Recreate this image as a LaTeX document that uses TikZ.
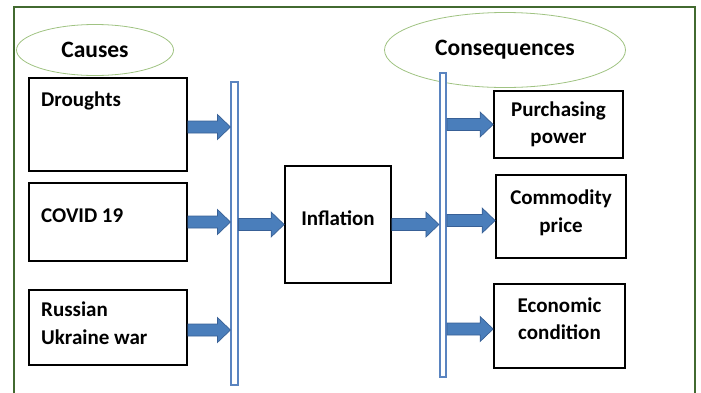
\documentclass[tikz,border=0pt]{standalone}
\usepackage{fontspec}
\setmainfont{Carlito}
\usetikzlibrary{calc,shapes.geometric}
\definecolor{framegreen}{RGB}{66,106,48}
\definecolor{ovalgreen}{RGB}{160,195,130}
\definecolor{arrowfill}{RGB}{74,126,187}
\definecolor{arrowedge}{RGB}{56,96,150}
\definecolor{barblue}{RGB}{90,132,192}

\tikzset{
  boxtxt/.style={font=\fontsize{21}{27.5}\selectfont\bfseries},
  headtxt/.style={font=\fontsize{23.5}{27}\selectfont\bfseries},
  oval/.style={ellipse, draw=ovalgreen, line width=0.8pt, headtxt, inner sep=0pt},
  cbox/.style={draw, line width=1.7pt, boxtxt, align=center, inner sep=0pt},
  lbox/.style={draw, line width=1.7pt, inner sep=0pt},
  intext/.style={boxtxt, align=left, inner sep=0pt, anchor=north west},
  bar/.style={draw=barblue, line width=1.6pt, fill=white, minimum width=6.5pt, inner sep=0pt},
  blockarr/.style={draw=arrowedge, fill=arrowfill, line width=0.7pt,
    to path={let \p1=(\tikztostart), \p2=(\tikztotarget) in
      (\x1,\y1+6pt) -- (\x2-13pt,\y1+6pt) -- (\x2-13pt,\y1+12.5pt) -- (\x2,\y1)
      -- (\x2-13pt,\y1-12.5pt) -- (\x2-13pt,\y1-6pt) -- (\x1,\y1-6pt) -- cycle}},
}

\begin{document}
\begin{tikzpicture}[x=1pt,y=-1pt]
  \useasboundingbox (0,0) rectangle (701,392);
  \draw[framegreen, line width=2pt] (14,7) rectangle (695,400);

  % headings
  \node[oval, minimum width=157pt, minimum height=51pt] (causes) at (95,50) {Causes};
  \node[oval, minimum width=241pt, minimum height=75pt] (conseq) at (505,50) {Consequences};

  % causes
  \node[lbox, minimum width=158pt, minimum height=93pt] (drought) at (108,124.5) {};
  \node[lbox, minimum width=158pt, minimum height=78pt] (covid) at (108,222) {};
  \node[lbox, minimum width=158pt, minimum height=75pt] (russia) at (108,327.5) {};
  \node[intext] (droughttxt) at (41,92) {Droughts};
  \node[intext] (covidtxt) at (41,209) {COVID 19};
  \node[intext] (russiatxt) at (41,302) {Russian\\Ukraine war};

  % bars
  \node[bar, minimum height=303pt] (barL) at (234.5,233.5) {};
  \node[bar, minimum height=304pt] (barR) at (443,225) {};

  \node[cbox, minimum width=106pt, minimum height=117pt, text depth=12pt] (infl) at (338,224.5) {Inflation};

  % consequences
  \node[cbox, minimum width=129pt, minimum height=67pt] (purch) at (558.5,124.5) {Purchasing\\power};
  \node[cbox, minimum width=130pt, minimum height=83pt, text depth=11pt] (commod) at (561,216.5) {Commodity\\price};
  \node[cbox, minimum width=131pt, minimum height=84pt, text depth=15pt] (econ) at (559.5,326) {Economic\\condition};

  % arrow ends
  \coordinate (droughtout) at ([yshift=-2.5pt]drought.east);
  \coordinate (russiaout) at ([yshift=-2.5pt]russia.east);
  \coordinate (commodin) at ([yshift=-4pt]commod.west);
  \coordinate (econin) at ([yshift=-3pt]econ.west);

  % arrows
  \draw[blockarr] (droughtout) to (barL.west |- droughtout);
  \draw[blockarr] (covid.east) to (barL.west |- covid.east);
  \draw[blockarr] (russiaout) to (barL.west |- russiaout);
  \draw[blockarr] (barL.east |- infl.west) to (infl.west);
  \draw[blockarr] (infl.east) to (barR.west |- infl.east);
  \draw[blockarr] (barR.east |- purch.west) to (purch.west);
  \draw[blockarr] (barR.east |- commodin) to (commodin);
  \draw[blockarr] (barR.east |- econin) to (econin);
\end{tikzpicture}
\end{document}
